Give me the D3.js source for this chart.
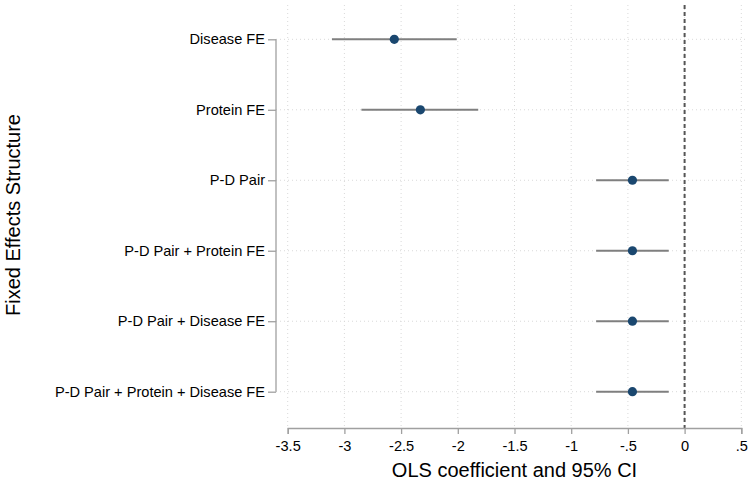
<!DOCTYPE html>
<html>
<head>
<meta charset="utf-8">
<script src="https://cdn.jsdelivr.net/npm/d3@7"></script>
<style>
  html, body { margin: 0; padding: 0; background: #fff; }
  text { font-family: "Liberation Sans", Arial, Helvetica, sans-serif; }
</style>
</head>
<body>
<svg id="chart" width="748" height="484"></svg>
<script>
const categories = ["Disease FE", "Protein FE", "P-D Pair", "P-D Pair + Protein FE", "P-D Pair + Disease FE", "P-D Pair + Protein + Disease FE"];
const coef  = [-2.56, -2.33, -0.46, -0.46, -0.46, -0.46];
const ciLow = [-3.11, -2.85, -0.78, -0.78, -0.78, -0.78];
const ciHigh = [-2.01, -1.82, -0.14, -0.14, -0.14, -0.14];
const xTicks = [-3.5, -3, -2.5, -2, -1.5, -1, -0.5, 0, 0.5];
const xTickLabels = ["-3.5", "-3", "-2.5", "-2", "-1.5", "-1", "-.5", "0", ".5"];

const svg = d3.select("#chart");
const plotLeft = 276, plotRight = 748, plotTop = 5, plotBottom = 428;

const x = d3.scaleLinear().domain([-3.5, 0.5]).range([287.7, 741.3]);
const y = d3.scalePoint().domain(categories).range([39.3, 391.7]);

const gridColor = "#d9d9d9";
const font = "'Liberation Sans', Arial, sans-serif";

// vertical grid
svg.append("g").selectAll("line").data(xTicks).join("line")
  .attr("x1", d => x(d)).attr("x2", d => x(d))
  .attr("y1", plotTop).attr("y2", plotBottom)
  .attr("stroke", gridColor).attr("stroke-width", 1)
  .attr("stroke-dasharray", "1,3");

// horizontal grid
svg.append("g").selectAll("line").data(categories).join("line")
  .attr("x1", plotLeft).attr("x2", plotRight)
  .attr("y1", d => y(d)).attr("y2", d => y(d))
  .attr("stroke", gridColor).attr("stroke-width", 1)
  .attr("stroke-dasharray", "1,3");

// zero reference line
svg.append("line")
  .attr("x1", x(0)).attr("x2", x(0))
  .attr("y1", plotTop).attr("y2", plotBottom)
  .attr("stroke", "#555").attr("stroke-width", 2)
  .attr("stroke-dasharray", "4,3");

// x axis
const xAxis = d3.axisBottom(x).tickValues(xTicks)
  .tickFormat((d, i) => xTickLabels[i]).tickSize(6).tickPadding(7);
const gx = svg.append("g").attr("transform", `translate(0,${plotBottom})`).call(xAxis);
gx.select(".domain").attr("stroke", "#a0a0a0").attr("stroke-width", 1.3);
gx.selectAll(".tick line").attr("stroke", "#a0a0a0").attr("stroke-width", 1.3);
gx.selectAll(".tick text").attr("font-size", 14.6).attr("fill", "#000")
  .style("font-family", font);

// y axis
const yAxis = d3.axisLeft(y).tickSize(8).tickPadding(3);
const gy = svg.append("g").attr("transform", `translate(${plotLeft},0)`).call(yAxis);
gy.select(".domain").attr("d", `M0,${y(categories[0])}V${y(categories[categories.length-1])}`)
  .attr("stroke", "#a0a0a0").attr("stroke-width", 1.3).attr("fill", "none");
gy.selectAll(".tick line").attr("stroke", "#a0a0a0").attr("stroke-width", 1.3);
gy.selectAll(".tick text").attr("font-size", 14.6).attr("fill", "#000")
  .style("font-family", font);

// CI lines
svg.append("g").selectAll("line").data(categories).join("line")
  .attr("x1", (d, i) => x(ciLow[i])).attr("x2", (d, i) => x(ciHigh[i]))
  .attr("y1", d => y(d)).attr("y2", d => y(d))
  .attr("stroke", "#7f7f7f").attr("stroke-width", 2);

// points
svg.append("g").selectAll("circle").data(categories).join("circle")
  .attr("cx", (d, i) => x(coef[i])).attr("cy", d => y(d))
  .attr("r", 4.6).attr("fill", "#1a476f");

// axis titles
svg.append("text")
  .attr("x", (x(-3.5) + x(0.5)) / 2).attr("y", 477)
  .attr("text-anchor", "middle").attr("font-size", 20).attr("fill", "#000")
  .text("OLS coefficient and 95% CI");

svg.append("text")
  .attr("transform", `translate(20,215) rotate(-90)`)
  .attr("text-anchor", "middle").attr("font-size", 20).attr("fill", "#000")
  .text("Fixed Effects Structure");
</script>
</body>
</html>
